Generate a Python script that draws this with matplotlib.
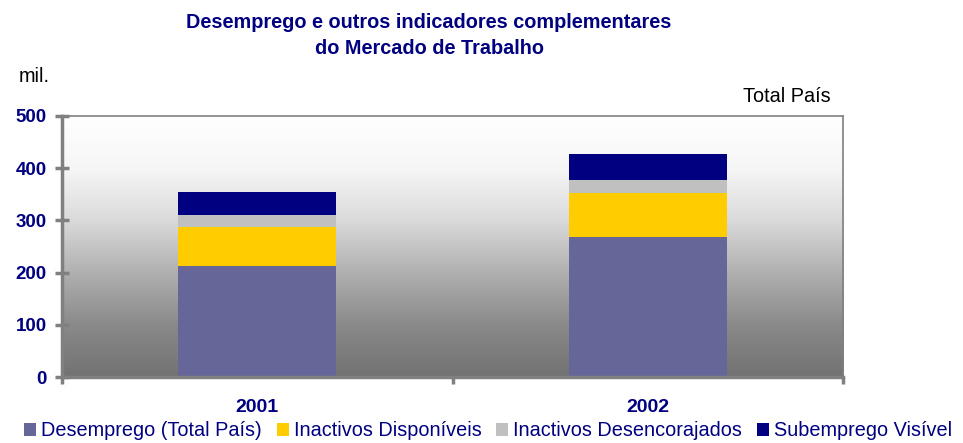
import matplotlib.pyplot as plt
import numpy as np
from matplotlib.colors import LinearSegmentedColormap

plt.rcParams['font.family'] = ['Liberation Sans', 'DejaVu Sans']

anos = ["2001", "2002"]
desemprego = [213, 269]
inactivos_disp = [75, 83]
inactivos_desenc = [23, 25]
subemprego = [43, 50]

series = [
    ("Desemprego (Total País)", desemprego, "#666699"),
    ("Inactivos Disponíveis", inactivos_disp, "#FFCC00"),
    ("Inactivos Desencorajados", inactivos_desenc, "#C0C0C0"),
    ("Subemprego Visível", subemprego, "#000080"),
]

navy = "#000080"
grey = "#808080"

fig = plt.figure(figsize=(9.63, 4.43), dpi=100)
ax = fig.add_axes([62 / 963, 1 - 377 / 443, 781 / 963, 261 / 443])

x = np.arange(len(anos))
ax.set_xlim(-0.5, 1.5)
ax.set_ylim(0, 500)

# gradient background: white at top, grey at bottom
grad = np.linspace(0, 1, 256).reshape(-1, 1)
bg = LinearSegmentedColormap.from_list(
    "bg", [(0, "#ffffff"), (0.2, "#f6f6f6"), (0.4, "#dadada"),
           (0.6, "#b0b0b0"), (0.8, "#8a8a8a"), (1, "#727272")])
ax.imshow(grad, extent=(-0.5, 1.5, 0, 500), aspect="auto", origin="upper",
          cmap=bg, zorder=0)

bottom = np.zeros(len(anos))
handles = []
for name, vals, color in series:
    b = ax.bar(x, vals, 0.404, bottom=bottom, color=color, label=name, zorder=2)
    handles.append(b)
    bottom += np.array(vals)

for side in ["left", "bottom"]:
    ax.spines[side].set_color(grey)
    ax.spines[side].set_linewidth(2.5)
for side in ["top", "right"]:
    ax.spines[side].set_color(grey)
    ax.spines[side].set_linewidth(1.2)

ax.set_yticks([0, 100, 200, 300, 400, 500])
ax.tick_params(axis="y", direction="inout", length=10, width=2.5, color=grey,
               labelsize=13.5, labelcolor=navy, pad=6)
for lab in ax.get_yticklabels():
    lab.set_fontweight("bold")

ax.set_xticks([-0.5, 0.5, 1.5])
ax.set_xticklabels([])
ax.tick_params(axis="x", direction="out", length=5, width=2.5, color=grey)
for xi, ano in zip(x, anos):
    ax.text(xi, -30 / 261, ano, transform=ax.get_xaxis_transform(),
            ha="center", va="center", fontsize=14, fontweight="bold", color=navy)

fig.text(429 / 963, 1 - 22 / 443, "Desemprego e outros indicadores complementares",
         ha="center", va="center", fontsize=14.3, fontweight="bold", color=navy)
fig.text(429 / 963, 1 - 48 / 443, "do Mercado de Trabalho",
         ha="center", va="center", fontsize=14.3, fontweight="bold", color=navy)
fig.text(19 / 963, 1 - 77 / 443, "mil.", ha="left", va="center", fontsize=14.3)
fig.text(831 / 963, 1 - 96 / 443, "Total País", ha="right", va="center", fontsize=14.3)

leg = fig.legend(handles=handles, loc="center", bbox_to_anchor=(488 / 963, 1 - 431 / 443),
                 ncol=4, frameon=False, fontsize=14.3, handlelength=0.6,
                 handleheight=0.6, handletextpad=0.25, columnspacing=0.75,
                 borderpad=0)
for t in leg.get_texts():
    t.set_color(navy)

fig.savefig("out.png", dpi=100)
